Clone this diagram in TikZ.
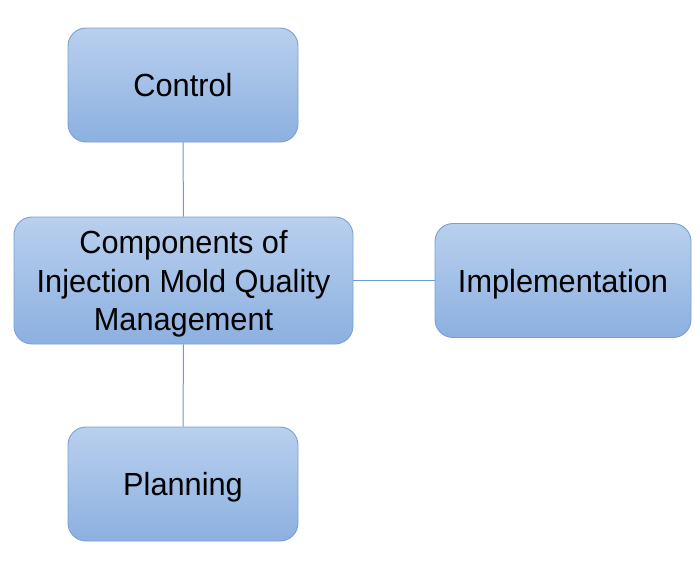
\documentclass[tikz,border=0pt]{standalone}
\usepackage{fontspec}
\setmainfont{Liberation Sans}[FakeStretch=0.96]
\begin{document}
\begin{tikzpicture}[x=1pt,y=-1pt,
  box/.style={draw=boxborder, line width=0.9pt, rounded corners=18pt,
    top color=boxtop, bottom color=boxbot, inner sep=0pt, align=center,
    font=\fontsize{32}{38.5}\selectfont, text=black,
    text height=23pt, text depth=0pt},
  link/.style={draw=linkcol, line width=1pt}]
\definecolor{boxtop}{HTML}{B9D0EE}
\definecolor{boxbot}{HTML}{8CB0E0}
\definecolor{boxborder}{HTML}{7A9FD2}
\definecolor{linkcol}{HTML}{6C9AD4}
\useasboundingbox (0,0) rectangle (700,570);
\node[box, minimum width=230pt, minimum height=114pt] (control) at (183,85) {Control};
\node[box, minimum width=339pt, minimum height=127pt, text height=100pt] (comp) at (183.5,280.5) {Components of\\Injection Mold Quality\\Management};
\node[box, minimum width=256pt, minimum height=114pt] (impl) at (563,280.5) {Implementation};
\node[box, minimum width=230pt, minimum height=114pt] (plan) at (183,484) {Planning};
\draw[link] (control) -- (comp);
\draw[link] (comp) -- (plan);
\draw[link] (comp.east |- impl.west) -- (impl.west);
\end{tikzpicture}
\end{document}
